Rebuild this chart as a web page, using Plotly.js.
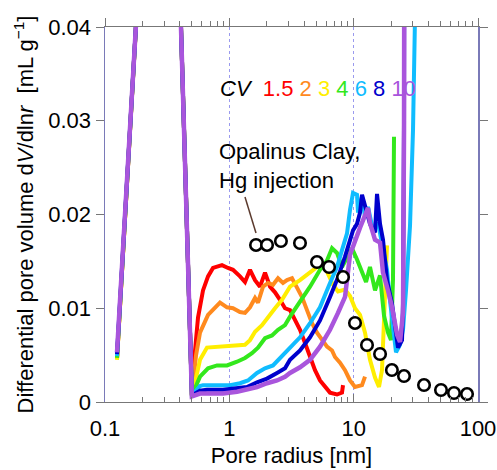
<!DOCTYPE html>
<html><head><meta charset="utf-8">
<script src="https://cdn.plot.ly/plotly-3.0.1.min.js"></script>
<style>html,body{margin:0;padding:0;background:#fff}</style>
</head><body><div id="chart" style="width:497px;height:470px"></div>
<script>
// shared steep part (nominal low-radius region, same for every CV)
const riseR = [0.1249, 0.19, 0.38];
const riseV = [0.047, 0.054];

const cvLabels = ['1.5', '2', '3', '4', '6', '8', '10'];
const cvColors = ['#ff0000', '#ff8a1e', '#ffee00', '#33e81c', '#10bcff', '#0000cc', '#a955dc'];
const startV = [0.0046, 0.0046, 0.0045, 0.0047, 0.0049, 0.0051, 0.0053];

const r_cv1_5 = [0.50,0.53,0.56,0.614,0.674,0.739,0.873,0.976,1.070,1.218,1.337,1.466,1.609,1.765,1.936,2.124,2.330,2.556,2.804,3.076,3.375,3.703,4.062,4.456,4.887,5.362,5.884,6.452,7.345,8.059,8.209];
const v_cv1_5 = [0.0007,0.0055,0.0090,0.0119,0.0134,0.0143,0.0146,0.0143,0.0141,0.0134,0.0128,0.0141,0.0130,0.0123,0.0138,0.0123,0.0117,0.0109,0.0100,0.0098,0.0087,0.0077,0.0063,0.0048,0.0034,0.0023,0.0016,0.0010,0.0008,0.0010,0.0018];

const r_cv2 = [0.50,0.54,0.581,0.674,0.767,0.841,0.958,1.070,1.218,1.337,1.466,1.609,1.700,1.866,2.047,2.245,2.463,2.702,2.910,3.192,3.502,3.842,4.214,4.624,5.071,5.564,6.104,6.697,7.078,7.766,8.518,9.346,10.25,11.67,12.34];
const v_cv2 = [0.0007,0.0050,0.0074,0.0093,0.0101,0.0106,0.0101,0.0100,0.0096,0.0095,0.0101,0.0111,0.0106,0.0123,0.0127,0.0125,0.0132,0.0127,0.0130,0.0132,0.0122,0.0112,0.0098,0.0084,0.0074,0.0066,0.0059,0.0055,0.0048,0.0042,0.0034,0.0023,0.0016,0.0018,0.0027];

const r_cv3 = [0.50,0.549,0.581,0.661,0.796,0.958,1.153,1.337,1.466,1.609,1.832,2.047,2.330,2.652,3.076,3.703,4.456,5.071,5.564,6.104,6.82,7.482,8.518,9.346,10.25,11.25,12.34,13.53,14.85,15.99,16.90,17.54,18.54];
const v_cv3 = [0.0007,0.0030,0.0045,0.0058,0.0059,0.0059,0.0060,0.0061,0.0066,0.0075,0.0082,0.0091,0.0100,0.0109,0.0123,0.0130,0.0138,0.0143,0.0148,0.0139,0.0125,0.0118,0.0120,0.0113,0.0100,0.0093,0.0074,0.0045,0.0026,0.0016,0.0034,0.0087,0.0167];

const r_cv4 = [0.50,0.581,0.674,0.796,0.958,1.153,1.337,1.521,1.700,1.936,2.204,2.463,2.804,3.076,3.703,4.456,5.362,6.104,6.697,7.345,8.059,8.841,9.697,10.64,11.67,12.57,13.53,14.85,16.29,17.54,18.89,19.96,20.72,21.11];
const v_cv4 = [0.0007,0.0027,0.0036,0.0039,0.0039,0.0043,0.0047,0.0052,0.0058,0.0068,0.0071,0.0077,0.0082,0.0091,0.0107,0.0123,0.0141,0.0151,0.0164,0.0159,0.0144,0.0155,0.0164,0.0152,0.0139,0.0128,0.0144,0.0119,0.0135,0.0092,0.0074,0.0066,0.0131,0.0283];

const r_cv6 = [0.50,0.581,0.614,0.796,1.012,1.218,1.413,1.670,1.936,2.245,2.556,3.076,3.703,4.456,5.362,6.452,7.345,8.059,8.841,9.346,9.879,10.64,10.84,11.67,12.34,13.04,14.31,15.70,17.22,18.54,19.60,20.72,21.9,23.59,24.94,26.36,27.36,28.39,30.01,31.14,33];
const v_cv6 = [0.0007,0.0017,0.0018,0.0018,0.0018,0.0020,0.0023,0.0031,0.0036,0.0039,0.0047,0.0059,0.0069,0.0084,0.0101,0.0127,0.0144,0.0162,0.0180,0.0205,0.0223,0.0221,0.0202,0.0219,0.0197,0.0208,0.0183,0.0191,0.0165,0.0141,0.0108,0.0077,0.0053,0.0061,0.0077,0.0119,0.0148,0.0188,0.0290,0.0410,0.06];

const r_cv8 = [0.50,0.581,0.661,0.889,1.153,1.387,1.670,2.009,2.418,2.804,3.076,3.703,4.456,5.362,6.452,7.482,8.518,9.346,9.879,10.64,11.25,11.67,12.34,12.80,13.53,14.31,14.85,15.41,16.29,17.22,18.54,20.34,21.50,22.73,24.48,24.94,25.41,25.6];
const v_cv8 = [0.0007,0.0012,0.0013,0.0013,0.0015,0.0016,0.0021,0.0025,0.0031,0.0036,0.0045,0.0055,0.0069,0.0087,0.0112,0.0133,0.0155,0.0173,0.0183,0.0190,0.0202,0.0221,0.0208,0.0200,0.0190,0.0183,0.0181,0.0222,0.0190,0.0173,0.0130,0.0105,0.0077,0.0058,0.0066,0.0105,0.0300,0.06];

const r_cv10 = [0.50,0.581,0.661,0.889,1.153,1.387,1.670,2.009,2.418,2.804,3.076,3.703,4.456,5.362,6.452,7.482,8.518,9.346,10.25,11.25,12.34,13.04,13.53,14.85,16.29,17.22,18.89,20.34,22.32,23.59,24.94,25.41,25.6];
const v_cv10 = [0.0006,0.0009,0.0009,0.0009,0.0011,0.0013,0.0016,0.0020,0.0023,0.0027,0.0031,0.0037,0.0045,0.0059,0.0077,0.0095,0.0112,0.0157,0.0173,0.0186,0.0199,0.0207,0.0191,0.0173,0.0170,0.0138,0.0119,0.0101,0.0072,0.0064,0.0095,0.0290,0.06];

// Opalinus Clay, Hg injection
const hgR = [1.64,2.01,2.60,3.70,5.07,6.34,8.21,10.25,12.8,16.3,20.3,25.4,36.8,50.4,64.1,81.6];
const hgV = [0.01675,0.01675,0.01717,0.01696,0.01493,0.0144,0.01333,0.00843,0.00608,0.00512,0.00341,0.00277,0.00181,0.00128,0.00096,0.00085];

const xMajor = [0.1, 1, 10, 100];
const xMajorText = ['0.1', '1', '10', '100'];
const xMinor = [0.2,0.3,0.4,0.5,0.6,0.7,0.8,0.9,2,3,4,5,6,7,8,9,20,30,40,50,60,70,80,90];

const seriesR = [r_cv1_5, r_cv2, r_cv3, r_cv4, r_cv6, r_cv8, r_cv10];
const seriesV = [v_cv1_5, v_cv2, v_cv3, v_cv4, v_cv6, v_cv8, v_cv10];

const traces = [];
for (let i = 0; i < seriesR.length; i++) {
  traces.push({
    x: riseR.concat(seriesR[i]),
    y: [startV[i]].concat(riseV, seriesV[i]),
    mode: 'lines', line: {color: cvColors[i], width: i === 6 ? 4.5 : 4},
    hoverinfo: 'skip', name: 'CV ' + cvLabels[i]
  });
}
traces.push({
  x: hgR, y: hgV, mode: 'markers', cliponaxis: false,
  marker: {symbol: 'circle', size: 11.5, color: '#ffffff', line: {color: '#000000', width: 2.6}},
  hoverinfo: 'skip', name: 'Hg'
});
traces.push({x: [1], y: [null], xaxis: 'x2', yaxis: 'y', mode: 'markers', hoverinfo: 'skip'});

let cvText = '<i>CV</i>  ';
cvText += cvLabels.map((l, i) => '<span style="color:' + cvColors[i] + '">' + l + '</span>').join(' ');

const font = 'Liberation Sans, Arial, Helvetica, sans-serif';
const layout = {
  width: 497, height: 470,
  margin: {l: 105, r: 19, t: 27, b: 68},
  paper_bgcolor: '#ffffff', plot_bgcolor: '#ffffff',
  font: {family: font, size: 22, color: '#000'},
  showlegend: false,
  xaxis: {
    type: 'log', range: [-1, 2],
    tickmode: 'array', tickvals: xMajor, ticktext: xMajorText,
    ticks: 'inside', ticklen: 8, tickcolor: '#777', tickwidth: 1,
    ticklabelstandoff: 7,
    showline: true, linecolor: '#777', linewidth: 1,
    showgrid: true, gridcolor: '#9a9aee', griddash: 'dot', gridwidth: 1,
    zeroline: false,
    minor: {tickmode: 'array', tickvals: xMinor, ticks: 'inside', ticklen: 5, tickcolor: '#777', showgrid: false},
    title: {text: 'Pore radius [nm]', standoff: 7, font: {size: 22}}
  },
  xaxis2: {
    type: 'log', range: [-1, 2], overlaying: 'x', side: 'top', anchor: 'y',
    tickmode: 'array', tickvals: xMajor, ticks: 'outside', ticklen: 8, tickcolor: '#777',
    showticklabels: false, showline: true, linecolor: '#777', showgrid: false, zeroline: false,
    minor: {tickmode: 'array', tickvals: xMinor, ticks: 'outside', ticklen: 5, tickcolor: '#777', showgrid: false}
  },
  yaxis: {
    range: [0, 0.04], tick0: 0, dtick: 0.01,
    ticks: 'outside', ticklen: 8, tickcolor: '#777',
    showline: true, linecolor: '#7a7ab8', linewidth: 1.5, mirror: 'ticks',
    showgrid: false, zeroline: false,
    title: {text: 'Differential pore volume d<i>V</i>/dln<i>r</i>  [mL g<sup>−1</sup>]', standoff: 8, font: {size: 22}}
  },
  annotations: [
    {xref: 'paper', yref: 'paper', x: 0.303, y: 0.837, xanchor: 'left', yanchor: 'middle',
     text: cvText, showarrow: false, font: {size: 22}},
    {xref: 'paper', yref: 'paper', x: 0.300, y: 0.629, xanchor: 'left', yanchor: 'middle', align: 'left',
     text: 'Opalinus Clay,<br>Hg injection', showarrow: false, font: {size: 22}}
  ],
  shapes: [
    {type: 'line', xref: 'paper', yref: 'paper', x0: 0.3753, y0: 0.5467, x1: 0.4048, y1: 0.4507,
     line: {color: '#5b3a2e', width: 1.5}}
  ]
};
Plotly.newPlot('chart', traces, layout, {displayModeBar: false, staticPlot: true});
</script></body></html>
